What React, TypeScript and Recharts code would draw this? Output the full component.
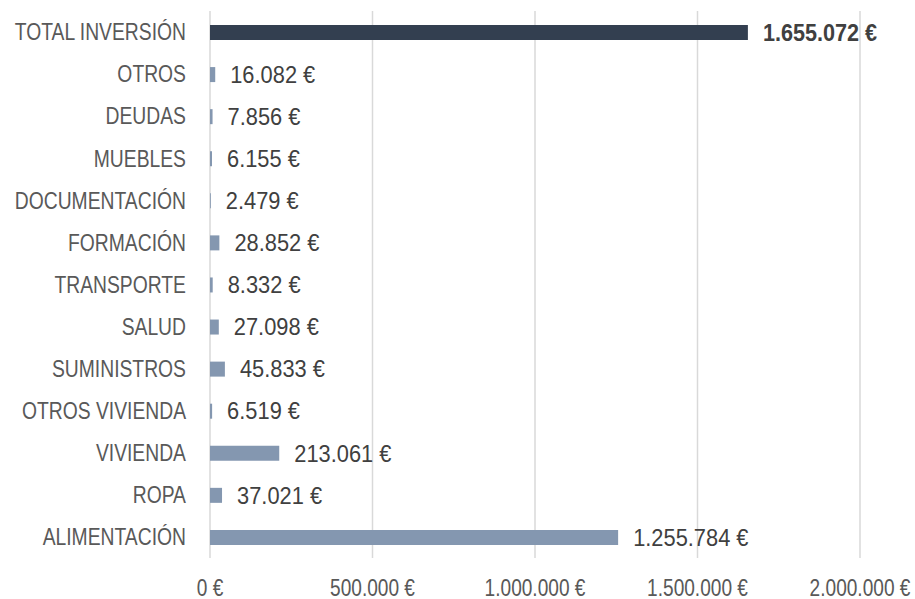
import { BarChart, Bar, XAxis, YAxis, CartesianGrid, LabelList, Cell } from "recharts";

const categories = [
  "TOTAL INVERSIÓN",
  "OTROS",
  "DEUDAS",
  "MUEBLES",
  "DOCUMENTACIÓN",
  "FORMACIÓN",
  "TRANSPORTE",
  "SALUD",
  "SUMINISTROS",
  "OTROS VIVIENDA",
  "VIVIENDA",
  "ROPA",
  "ALIMENTACIÓN",
];
const amounts = [
  1655072, 16082, 7856, 6155, 2479, 28852, 8332, 27098, 45833, 6519, 213061, 37021, 1255784,
];
const xTicks = [0, 500000, 1000000, 1500000, 2000000];

const data = categories.map((name, i) => ({ name, value: amounts[i] }));

// no Arial Narrow available: squeeze Liberation Sans horizontally
const FONT = "'Liberation Sans', Arial, sans-serif";

const euro = (v: number) => v.toLocaleString("de-DE") + " €";

const NarrowText = ({ x, y, anchor, dy, bold, fill, squeeze = 0.82, children }: any) => (
  <g transform={`translate(${x},${y}) scale(${squeeze},1)`}>
    <text
      x={0}
      y={0}
      dy={dy}
      textAnchor={anchor}
      fontFamily={FONT}
      fontSize={23}
      fontWeight={bold ? 700 : 400}
      fill={fill}
    >
      {children}
    </text>
  </g>
);

const CategoryTick = (props: any) => (
  <NarrowText x={props.x} y={props.y} anchor="end" dy="0.36em" fill="#595959" squeeze={0.84}>
    {props.payload.value}
  </NarrowText>
);

const AmountTick = (props: any) => (
  <NarrowText x={props.x} y={props.y} anchor="middle" dy="0.71em" fill="#595959" squeeze={0.83}>
    {euro(props.payload.value)}
  </NarrowText>
);

const ValueLabel = (props: any) => {
  const { x, y, width, height, value, index } = props;
  return (
    <NarrowText
      x={x + width + 15}
      y={y + height / 2}
      anchor="start"
      dy="0.36em"
      bold={index === 0}
      fill="#404040"
      squeeze={index === 0 ? 0.94 : 0.95}
    >
      {euro(value)}
    </NarrowText>
  );
};

export default function App() {
  return (
    <div style={{ position: "absolute", left: 0, top: 0, background: "#fff" }}>
      <BarChart
        width={915}
        height={599}
        data={data}
        layout="vertical"
        margin={{ top: 11, right: 55, bottom: 0, left: 0 }}
        barCategoryGap={0}
      >
        <CartesianGrid horizontal={false} stroke="#d9d9d9" strokeWidth={1.5} />
        <XAxis
          type="number"
          domain={[0, 2000000]}
          ticks={xTicks}
          height={41}
          axisLine={false}
          tickLine={false}
          tickMargin={16}
          interval={0}
          tick={<AmountTick />}
        />
        <YAxis
          type="category"
          dataKey="name"
          width={210}
          axisLine={false}
          tickLine={false}
          tickMargin={18}
          interval={0}
          tick={<CategoryTick />}
        />
        <Bar dataKey="value" barSize={15} isAnimationActive={false}>
          {data.map((d, i) => (
            <Cell key={d.name} fill={i === 0 ? "#333f50" : "#8497b0"} />
          ))}
          <LabelList dataKey="value" content={ValueLabel} />
        </Bar>
      </BarChart>
    </div>
  );
}
